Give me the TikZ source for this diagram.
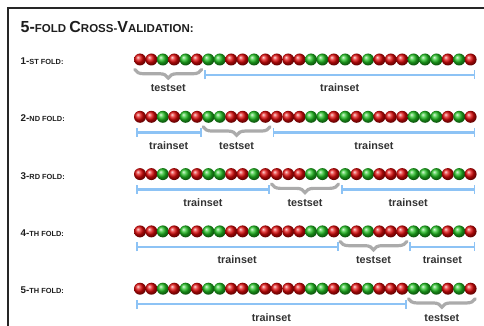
\documentclass[tikz,border=0pt]{standalone}
\usepackage{fontspec}
\setmainfont{Liberation Sans}
\usetikzlibrary{decorations.pathreplacing,shadings,arrows.meta,calc}
\definecolor{trainblue}{HTML}{8DC3F5}
\definecolor{bracegray}{HTML}{ABABAB}
\definecolor{labelgray}{HTML}{333333}
\definecolor{titlegray}{HTML}{1E1E1E}
\definecolor{ballred}{HTML}{E00808}
\definecolor{ballgreen}{HTML}{20C020}
\newcommand\bigsz[1]{{\fontsize{16}{18}\selectfont #1}}
\newcommand\smsz[1]{{\fontsize{11.5}{13}\selectfont #1}}
\newcommand\rbig[1]{{\fontsize{9.8}{11}\selectfont #1}}
\newcommand\rsm[1]{{\fontsize{7.4}{9}\selectfont #1}}
\begin{document}
\begin{tikzpicture}[x=1pt,y=-1pt,
  ballnode/.style={circle,inner sep=0pt,minimum size=12pt,shading=ball},
  rb/.style={ballnode,ball color=ballred},
  gb/.style={ballnode,ball color=ballgreen},
  trainset/.style={draw=trainblue,line width=2.4pt,
    {Bar[width=9pt,line width=1.8pt]}-{Bar[width=9pt,line width=1.8pt]}},
  testset/.style={draw=bracegray,line width=3.2pt,line cap=round,decorate,
    decoration={brace,mirror,amplitude=8.5pt,aspect=0.5}},
  lbl/.style={font=\fontsize{10.8}{12}\selectfont\bfseries,text=labelgray,anchor=base,inner sep=0pt},
  rowlbl/.style={font=\bfseries,text=titlegray,anchor=base west,inner sep=0pt}
]
\useasboundingbox (0,0) rectangle (484,326);
\draw[line width=1.5pt,draw=black!85] (8,340) -- (8,8) -- (500,8);
\node[rowlbl] (title) at (20.5,33)
  {\bigsz{5-}\smsz{FOLD }\bigsz{C}\smsz{ROSS-}\bigsz{V}\smsz{ALIDATION:}};
\foreach \row/\suf in {1/ST,2/ND,3/RD,4/TH,5/TH}{
  \pgfmathsetmacro\yy{59.5+57.3*(\row-1)}
  \node[rowlbl] (f\row) at (20.5,\yy+5) {\rbig{\row-}\rsm{\suf\ FOLD:}};
  \foreach \col [count=\i] in {rb,rb,gb,rb,gb,rb,gb,gb,rb,rb,gb,rb,rb,rb,rb,gb,gb,rb,gb,rb,gb,rb,rb,rb,gb,gb,gb,rb,gb,rb}{
    \node[\col] (b\row-\i) at ({140+11.4*(\i-1)},\yy) {};
  }
}
\foreach \row/\a/\b/\kind/\off/\lx in {
  1/0/1/testset/10/0.5, 1/1/5/trainset/15.5/1.5,
  2/0/1/trainset/15.5/1.5, 2/1/2/testset/10/0.5, 2/2/5/trainset/15.5/1.5,
  3/0/2/trainset/15.5/1.5, 3/2/3/testset/10/0.5, 3/3/5/trainset/15.5/1.5,
  4/0/3/trainset/15.5/1.5, 4/3/4/testset/10/0.5, 4/4/5/trainset/15.5/1.5,
  5/0/4/trainset/15.5/1.5, 5/4/5/testset/10/0.5}{
  \pgfmathsetmacro\yy{59.5+57.3*(\row-1)}
  \pgfmathsetmacro\xa{134.3+68.4*\a+\lx}
  \pgfmathsetmacro\xb{134.3+68.4*\b-1}
  \coordinate (p\row-\a) at (\xa,\yy+\off);
  \coordinate (q\row-\a) at (\xb,\yy+\off);
  \draw[\kind] (p\row-\a) -- (q\row-\a);
  \node[lbl] (l\row-\a) at ($(p\row-\a)!0.5!(q\row-\a)+(0,32.5-\off)$) {\kind};
}
\end{tikzpicture}
\end{document}
